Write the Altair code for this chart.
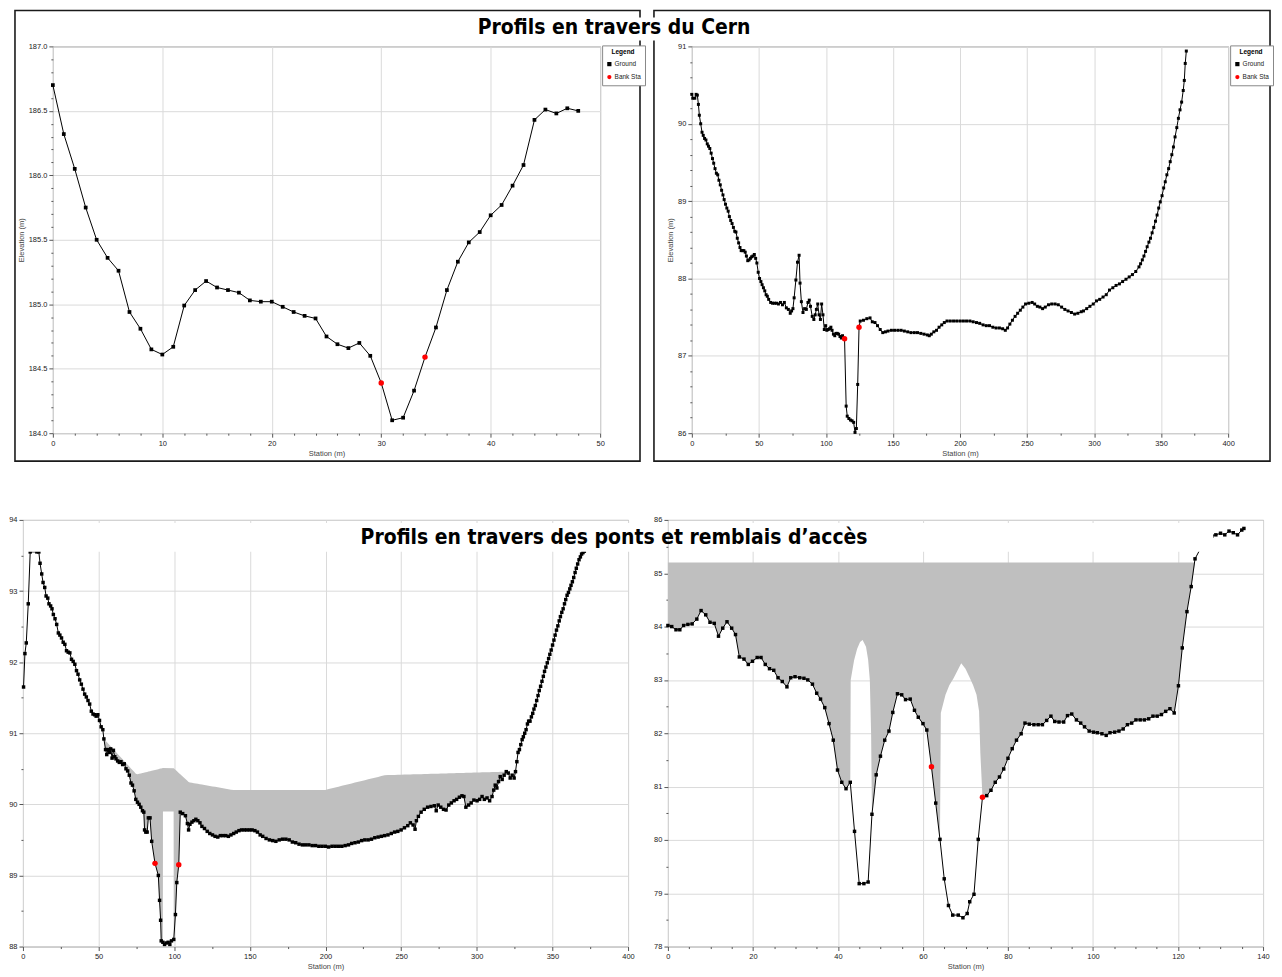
import altair as alt
import numpy as np
import pandas as pd

# ---------------- texts ----------------
TITLE_TOP = "Profils en travers du Cern"
TITLE_BOTTOM = "Profils en travers des ponts et remblais d\u2019accès"
X_TITLE = "Station (m)"
Y_TITLE = "Elevation (m)"
LEGEND_TITLE = "Legend"
LEGEND_LABELS = ["Ground", "Bank Sta"]

# ---------------- panel 1 : Cern (top left) ----------------
p1_station = list(range(49))
p1_elev = [186.70, 186.32, 186.05, 185.75, 185.50, 185.36, 185.26, 184.94, 184.81, 184.65,
           184.61, 184.67, 184.99, 185.11, 185.18, 185.13, 185.11, 185.09, 185.03, 185.02,
           185.02, 184.98, 184.94, 184.91, 184.89, 184.75, 184.69, 184.66, 184.70, 184.60,
           184.39, 184.10, 184.12, 184.33, 184.59, 184.82, 185.11, 185.33, 185.48, 185.56,
           185.69, 185.77, 185.92, 186.08, 186.43, 186.51, 186.48, 186.52, 186.50]
p1_bank = [(30.0, 184.39), (34.0, 184.59)]

# ---------------- panel 2 : Cern (top right) ----------------
p2_profile = [
    (0.0, 90.38), (0.7, 90.33), (2.2, 90.33), (3.2, 90.38), (4.1, 90.37), (4.9, 90.25), (5.6, 90.11),
    (6.6, 90.00), (7.6, 89.89), (8.5, 89.85), (9.5, 89.81), (10.5, 89.79), (11.5, 89.74), (12.4, 89.71),
    (13.4, 89.68), (14.4, 89.62), (15.4, 89.55), (16.3, 89.49), (17.3, 89.42), (18.3, 89.36), (19.3, 89.34),
    (20.2, 89.27), (21.2, 89.21), (22.2, 89.14), (23.2, 89.08), (24.1, 89.02), (25.1, 88.96), (26.1, 88.91),
    (27.1, 88.87), (28.0, 88.80), (29.0, 88.75), (30.0, 88.71), (31.0, 88.66), (32.0, 88.61), (32.9, 88.60),
    (33.9, 88.52), (34.9, 88.46), (35.9, 88.40), (36.8, 88.36), (37.8, 88.36), (38.8, 88.36), (39.8, 88.34),
    (40.7, 88.29), (41.7, 88.23), (42.7, 88.24), (43.7, 88.26), (44.6, 88.28), (45.6, 88.29), (46.6, 88.31),
    (47.6, 88.26), (48.5, 88.20), (49.5, 88.08), (50.5, 88.00), (51.5, 87.96), (52.4, 87.92), (53.4, 87.88),
    (54.4, 87.84), (55.4, 87.79), (56.3, 87.77), (57.3, 87.73), (58.8, 87.69), (60.2, 87.68), (61.7, 87.68),
    (63.2, 87.68), (64.6, 87.67), (66.1, 87.69), (67.6, 87.66), (69.0, 87.69), (70.5, 87.62), (72.0, 87.60),
    (73.4, 87.55), (74.4, 87.58), (75.4, 87.61), (76.3, 87.75), (77.6, 87.98), (78.8, 88.21), (80.0, 88.30),
    (80.7, 87.94), (81.7, 87.70), (82.9, 87.56), (84.1, 87.61), (85.4, 87.60), (86.6, 87.69), (87.6, 87.72),
    (88.5, 87.64), (89.8, 87.51), (91.0, 87.47), (92.0, 87.53), (92.9, 87.60), (93.9, 87.67), (94.9, 87.53),
    (95.9, 87.47), (96.8, 87.67), (97.8, 87.53), (98.8, 87.34), (99.8, 87.39), (100.7, 87.33), (101.7, 87.34),
    (102.7, 87.35), (103.7, 87.37), (104.6, 87.33), (105.6, 87.28), (106.6, 87.26), (107.6, 87.29),
    (108.5, 87.29), (109.5, 87.28), (110.5, 87.25), (111.5, 87.23), (112.4, 87.26), (113.9, 87.22),
    (115.1, 86.35), (115.9, 86.22), (117.1, 86.19), (118.3, 86.17), (119.5, 86.16), (120.7, 86.14),
    (121.7, 86.01), (122.7, 86.06), (123.7, 86.63), (124.7, 87.37), (125.6, 87.45), (128.0, 87.46),
    (130.5, 87.48), (132.9, 87.49), (134.6, 87.44), (136.6, 87.43), (138.5, 87.39), (140.5, 87.34),
    (142.4, 87.30), (144.4, 87.31), (146.3, 87.32), (148.8, 87.33), (151.2, 87.33), (153.7, 87.33),
    (156.1, 87.33), (158.5, 87.32), (161.0, 87.31), (163.4, 87.30), (165.9, 87.30), (168.3, 87.30),
    (170.8, 87.29), (173.2, 87.28), (175.6, 87.27), (177.1, 87.26), (178.6, 87.28), (180.5, 87.31),
    (182.5, 87.33), (184.4, 87.37), (186.4, 87.40), (188.3, 87.43), (190.3, 87.45), (192.7, 87.45),
    (195.2, 87.45), (197.6, 87.45), (200.1, 87.45), (202.5, 87.45), (204.9, 87.45), (207.4, 87.45),
    (209.8, 87.44), (212.3, 87.43), (214.7, 87.42), (217.2, 87.40), (219.6, 87.39), (222.0, 87.39),
    (224.5, 87.37), (226.9, 87.36), (229.4, 87.36), (231.8, 87.35), (233.8, 87.33), (235.5, 87.36),
    (237.2, 87.41), (239.1, 87.46), (241.1, 87.51), (243.0, 87.55), (245.0, 87.59), (246.9, 87.63),
    (248.9, 87.67), (251.3, 87.68), (253.8, 87.69), (255.7, 87.67), (257.7, 87.64), (259.6, 87.63),
    (261.6, 87.61), (263.6, 87.63), (266.0, 87.66), (268.4, 87.67), (270.9, 87.67), (273.3, 87.66),
    (275.8, 87.63), (278.2, 87.60), (280.6, 87.58), (283.1, 87.56), (285.5, 87.54), (287.9, 87.55),
    (290.4, 87.57), (292.1, 87.58), (294.5, 87.61), (296.9, 87.64), (299.4, 87.67), (301.8, 87.71),
    (304.2, 87.73), (306.7, 87.76), (309.1, 87.79), (311.5, 87.85), (314.0, 87.88), (316.4, 87.91),
    (318.9, 87.93), (321.3, 87.96), (323.8, 87.99), (326.2, 88.02), (328.6, 88.05), (331.1, 88.09),
    (333.5, 88.15), (334.7, 88.19), (336.0, 88.24), (337.2, 88.29), (338.4, 88.35), (339.6, 88.41),
    (340.9, 88.47), (342.1, 88.52), (343.3, 88.59), (344.5, 88.66), (345.8, 88.74), (347.0, 88.82),
    (348.2, 88.91), (349.4, 88.99), (350.7, 89.07), (351.9, 89.17), (353.1, 89.25), (354.3, 89.34),
    (355.6, 89.42), (356.8, 89.51), (358.0, 89.60), (359.2, 89.70), (360.4, 89.83), (361.7, 89.95),
    (362.9, 90.07), (364.1, 90.18), (365.3, 90.28), (366.5, 90.43), (367.3, 90.56), (368.0, 90.78),
    (368.8, 90.94)]
p2_bank = [(113.9, 87.22), (124.7, 87.37)]

# ---------------- panel 3 : bridge 1 (bottom left) ----------------
p3_profile = [
    (0.4, 91.65), (1.3, 92.12), (2.2, 92.27), (3.5, 92.82), (4.8, 93.55), (9.2, 93.55), (10.5, 93.55),
    (11.3, 93.39), (12.4, 93.24), (13.3, 93.12), (14.4, 93.05), (15.3, 92.93), (16.4, 92.90), (17.2, 92.82),
    (18.3, 92.79), (19.2, 92.75), (20.1, 92.67), (21.2, 92.61), (22.3, 92.53), (23.4, 92.41), (24.4, 92.38),
    (25.5, 92.34), (26.6, 92.28), (27.7, 92.25), (28.8, 92.16), (29.9, 92.14), (31.0, 92.13), (32.1, 92.04),
    (33.2, 92.01), (34.3, 91.97), (35.4, 91.88), (36.4, 91.83), (37.5, 91.75), (38.6, 91.69), (39.7, 91.62),
    (40.8, 91.55), (41.9, 91.51), (43.0, 91.46), (44.1, 91.41), (45.2, 91.31), (46.3, 91.27), (47.4, 91.26),
    (48.4, 91.24), (49.5, 91.26), (50.6, 91.18), (51.7, 91.09), (52.8, 91.05), (53.5, 90.92), (54.6, 90.77),
    (55.4, 90.70), (56.3, 90.77), (57.2, 90.73), (58.0, 90.78), (58.9, 90.65), (59.8, 90.76), (60.7, 90.67),
    (61.5, 90.64), (62.6, 90.61), (63.7, 90.59), (64.8, 90.60), (65.9, 90.56), (67.0, 90.57), (68.1, 90.50),
    (69.2, 90.47), (70.3, 90.41), (71.4, 90.30), (72.4, 90.27), (73.5, 90.19), (74.6, 90.07), (75.7, 90.03),
    (76.8, 90.00), (77.9, 89.96), (79.0, 89.91), (79.9, 89.89), (80.4, 89.64), (81.2, 89.61), (82.1, 89.61),
    (82.9, 89.81), (84.0, 89.81), (85.1, 89.48), (87.3, 89.17), (89.5, 89.00), (90.3, 88.65), (91.0, 88.37),
    (91.4, 88.08), (92.5, 88.06), (93.6, 88.03), (94.7, 88.05), (96.0, 88.06), (97.1, 88.03), (98.2, 88.08),
    (99.7, 88.10), (100.8, 88.45), (101.7, 88.90), (103.0, 89.15), (104.0, 89.89), (105.6, 89.87),
    (107.4, 89.84), (108.7, 89.73), (109.5, 89.64), (110.4, 89.72), (111.7, 89.75), (113.0, 89.77),
    (114.3, 89.79), (115.6, 89.77), (117.0, 89.74), (118.3, 89.69), (120.0, 89.66), (121.8, 89.62),
    (123.5, 89.59), (125.3, 89.57), (127.0, 89.55), (128.8, 89.54), (130.5, 89.56), (132.3, 89.56),
    (134.0, 89.56), (135.8, 89.55), (137.5, 89.57), (139.3, 89.59), (141.0, 89.61), (142.8, 89.63),
    (144.5, 89.64), (146.3, 89.64), (148.0, 89.64), (149.8, 89.64), (151.5, 89.64), (153.3, 89.63),
    (155.0, 89.61), (156.8, 89.57), (158.5, 89.55), (160.7, 89.52), (162.9, 89.50), (165.1, 89.49),
    (167.2, 89.48), (169.4, 89.50), (171.6, 89.51), (173.8, 89.51), (176.0, 89.50), (178.1, 89.47),
    (180.3, 89.46), (182.5, 89.44), (184.7, 89.43), (186.8, 89.43), (189.0, 89.43), (191.2, 89.42),
    (193.4, 89.42), (195.6, 89.41), (197.7, 89.41), (199.9, 89.41), (202.1, 89.40), (204.3, 89.41),
    (206.4, 89.41), (208.6, 89.41), (210.8, 89.41), (213.0, 89.42), (215.2, 89.43), (217.3, 89.45),
    (219.5, 89.46), (221.7, 89.47), (223.9, 89.49), (226.0, 89.50), (228.2, 89.50), (230.4, 89.51),
    (232.6, 89.53), (234.8, 89.54), (236.9, 89.55), (239.1, 89.56), (241.3, 89.57), (243.5, 89.59),
    (245.7, 89.61), (247.8, 89.62), (250.0, 89.64), (252.2, 89.67), (254.4, 89.70), (256.1, 89.74),
    (257.9, 89.71), (259.2, 89.65), (260.1, 89.77), (261.4, 89.83), (263.2, 89.89), (265.3, 89.93),
    (267.5, 89.96), (269.7, 89.97), (271.9, 89.98), (273.2, 89.91), (274.5, 89.99), (276.2, 89.96),
    (278.0, 89.93), (279.7, 89.92), (281.5, 89.99), (283.2, 90.02), (285.0, 90.05), (286.7, 90.07),
    (288.5, 90.10), (290.2, 90.12), (291.5, 90.11), (292.8, 89.96), (294.6, 89.99), (296.3, 90.02),
    (298.1, 90.06), (300.2, 90.05), (301.9, 90.07), (303.5, 90.11), (305.0, 90.07), (306.8, 90.09),
    (308.5, 90.05), (310.1, 90.11), (311.2, 90.20), (312.2, 90.27), (313.3, 90.23), (314.4, 90.32),
    (315.5, 90.39), (316.8, 90.35), (318.1, 90.41), (319.5, 90.46), (320.8, 90.44), (322.1, 90.37),
    (323.4, 90.41), (324.7, 90.37), (325.6, 90.46), (326.5, 90.60), (327.3, 90.73), (328.2, 90.77),
    (329.1, 90.84), (330.0, 90.91), (330.8, 90.95), (331.7, 91.00), (332.6, 91.05), (333.5, 91.13),
    (334.3, 91.17), (335.2, 91.17), (336.1, 91.23), (337.0, 91.28), (337.8, 91.34), (338.7, 91.39),
    (339.6, 91.46), (340.5, 91.53), (341.3, 91.60), (342.2, 91.66), (343.1, 91.73), (344.0, 91.80),
    (344.8, 91.87), (345.7, 91.93), (346.6, 91.99), (347.5, 92.05), (348.3, 92.11), (349.2, 92.17),
    (350.1, 92.24), (351.0, 92.31), (351.8, 92.38), (352.7, 92.45), (353.6, 92.51), (354.5, 92.58),
    (355.3, 92.64), (356.2, 92.70), (357.1, 92.75), (358.0, 92.82), (358.8, 92.88), (359.7, 92.94),
    (360.6, 92.98), (361.5, 93.03), (362.3, 93.08), (363.2, 93.13), (364.1, 93.19), (365.0, 93.26),
    (365.8, 93.32), (366.7, 93.38), (367.6, 93.44), (368.5, 93.48), (369.3, 93.52), (370.2, 93.54),
    (371.1, 93.56)]
p3_bank = [(87.3, 89.17), (103.0, 89.15)]
# bridge deck (high chord) and the opening under the low chord
p3_deck_station = [53.5, 75.1, 92.4, 99.5, 109.8, 139.2, 199.3, 239.4, 320.0]
p3_deck_elev = [90.92, 90.42, 90.51, 90.51, 90.31, 90.20, 90.20, 90.41, 90.46]
p3_opening_station = [92.55, 99.6]
p3_opening_elev = [89.90, 89.90]

# ---------------- panel 4 : bridge 2 (bottom right) ----------------
p4_profile = [
    (0.0, 84.02), (0.9, 84.00), (1.9, 83.94), (2.8, 83.94), (3.7, 84.02), (4.7, 84.04), (5.7, 84.05),
    (6.8, 84.14), (7.8, 84.30), (8.9, 84.22), (9.9, 84.08), (10.9, 84.06), (11.9, 83.82), (12.9, 83.97),
    (13.9, 84.09), (15.0, 83.97), (15.9, 83.85), (16.8, 83.43), (17.9, 83.39), (18.9, 83.29), (19.9, 83.35),
    (21.0, 83.42), (21.9, 83.42), (22.9, 83.29), (23.9, 83.21), (24.9, 83.18), (25.9, 83.04), (26.9, 82.97),
    (28.0, 82.87), (28.9, 83.04), (29.9, 83.06), (31.0, 83.04), (32.0, 83.03), (32.9, 83.00), (34.0, 82.92),
    (35.0, 82.75), (35.9, 82.64), (36.9, 82.48), (37.9, 82.18), (38.9, 81.87), (39.9, 81.31), (40.9, 81.08),
    (41.9, 80.96), (42.9, 81.08), (43.9, 80.16), (45.0, 79.18), (46.1, 79.18), (47.1, 79.21), (48.0, 80.48),
    (49.0, 81.22), (50.0, 81.57), (51.0, 81.87), (52.0, 82.04), (52.9, 82.39), (54.0, 82.74), (55.0, 82.72),
    (55.9, 82.63), (57.0, 82.64), (58.0, 82.43), (58.9, 82.30), (60.0, 82.18), (60.9, 82.06), (62.0, 81.37),
    (63.0, 80.69), (64.0, 80.01), (65.0, 79.27), (66.0, 78.77), (67.0, 78.59), (68.3, 78.59), (69.4, 78.54),
    (70.4, 78.62), (71.0, 78.84), (72.0, 78.98), (73.0, 80.01), (74.0, 80.80), (75.0, 80.83), (76.0, 80.93),
    (77.0, 81.08), (78.0, 81.18), (79.0, 81.33), (80.0, 81.53), (81.0, 81.71), (82.0, 81.87), (83.1, 81.99),
    (84.0, 82.19), (85.0, 82.17), (86.1, 82.16), (87.1, 82.16), (88.1, 82.16), (89.1, 82.24), (90.1, 82.32),
    (91.0, 82.22), (92.0, 82.21), (93.1, 82.21), (94.0, 82.33), (95.0, 82.36), (96.1, 82.25), (97.1, 82.19),
    (98.0, 82.12), (99.1, 82.04), (100.1, 82.02), (101.0, 82.01), (102.1, 81.99), (103.1, 81.96),
    (104.0, 82.01), (105.1, 82.02), (106.1, 82.04), (107.1, 82.08), (108.1, 82.16), (109.1, 82.19),
    (110.1, 82.25), (111.1, 82.25), (112.1, 82.25), (113.1, 82.27), (114.1, 82.32), (115.1, 82.32),
    (116.1, 82.35), (117.1, 82.41), (118.1, 82.46), (119.1, 82.38), (120.1, 82.89), (121.0, 83.60),
    (122.1, 84.28), (123.1, 84.75), (124.0, 85.27), (127.0, 85.72), (128.0, 85.70), (128.9, 85.72),
    (130.0, 85.75), (131.0, 85.72), (132.0, 85.79), (133.0, 85.76), (134.0, 85.72), (135.0, 85.81),
    (135.5, 85.84)]
p4_bank = [(62.0, 81.37), (74.0, 80.80)]
p4_deck_top = 85.2
p4_deck_end = 124.0
# underside of the two bridge openings (arches)
p4_arch1_station = [43.0, 43.8, 44.5, 45.2, 45.8, 46.6, 47.1, 47.5, 47.8]
p4_arch1_elev = [83.00, 83.37, 83.58, 83.71, 83.75, 83.62, 83.38, 83.00, 82.00]
p4_arch2_station = [64.2, 65.3, 66.2, 67.2, 68.1, 69.0, 70.0, 70.9, 71.8, 72.6, 73.2, 73.5]
p4_arch2_elev = [82.38, 82.72, 82.90, 83.03, 83.17, 83.31, 83.21, 83.06, 82.90, 82.72, 82.41, 81.63]

# ---------------- styling ----------------
FONT = "Liberation Sans"
TITLE_FONT = "DejaVu Sans Condensed, DejaVu Sans"
GREY_FILL = "#bfbfbf"
one = pd.DataFrame({"k": [0]})


def tick_values(lo, hi, step):
    n = int(round((hi - lo) / step))
    return [round(lo + i * step, 4) for i in range(n + 1)]


def make_axis(lo, hi, major, minor, fmt, title, **kw):
    test = f"abs(datum.value / {major} - round(datum.value / {major})) < 0.001"
    return alt.Axis(
        values=tick_values(lo, hi, minor),
        labelExpr=f"({test}) ? format(datum.value, '{fmt}') : ''",
        tickSize={"condition": {"test": test, "value": 4}, "value": 2},
        gridOpacity={"condition": {"test": test, "value": 1}, "value": 0},
        labelOverlap=False, labelFlush=False, title=title, **kw)


def pix_rect(x1, x2, y1, y2, **mk):
    return alt.Chart(one).mark_rect(**mk).encode(
        x=alt.value(x1), x2=alt.value(x2), y=alt.value(y1), y2=alt.value(y2))


def pix_text(txt, x, y):
    return alt.Chart(one).mark_text(
        text=txt, font=TITLE_FONT, fontSize=21, fontWeight="bold", color="black",
        align="center", baseline="middle").encode(x=alt.value(x), y=alt.value(y))


def panel(profile, bank, xd, yd, xmaj, xmin, ymaj, ymin, yfmt, w, h, ytitle,
          psize, legend, area=None, before=(), after=()):
    xs = alt.Scale(domain=xd, nice=False, zero=False)
    ys = alt.Scale(domain=yd, nice=False, zero=False)
    xa = make_axis(xd[0], xd[1], xmaj, xmin, "d", X_TITLE, titlePadding=3)
    ya = make_axis(yd[0], yd[1], ymaj, ymin, yfmt, ytitle, titlePadding=3)
    ground = pd.DataFrame(profile, columns=["station", "elev"])
    ground["series"] = LEGEND_LABELS[0]
    banks = pd.DataFrame(bank, columns=["station", "elev"])
    banks["series"] = LEGEND_LABELS[1]
    X = alt.X("station:Q", scale=xs, axis=xa)
    Y = alt.Y("elev:Q", scale=ys, axis=ya)
    layers = list(before)
    if area is not None:
        layers.append(alt.Chart(area).mark_area(color=GREY_FILL, opacity=1).encode(
            x=X, y=alt.Y("top:Q", scale=ys, axis=ya), y2="bottom:Q"))
    layers.append(alt.Chart(ground).mark_line(color="black", strokeWidth=1).encode(x=X, y=Y))
    if legend:
        lg = alt.Legend(title=LEGEND_TITLE, orient="none", legendX=w + 2, legendY=-1,
                        direction="vertical", titleFont=FONT, titleFontSize=6.5,
                        titleFontWeight="bold", titleAnchor="middle", titlePadding=5,
                        labelFont=FONT, labelFontSize=6.5, labelColor="#222",
                        symbolSize=18, strokeColor="#888", fillColor="white",
                        padding=4, rowPadding=6, labelOffset=2)
        col = alt.Color("series:N", scale=alt.Scale(domain=LEGEND_LABELS, range=["black", "red"]), legend=lg)
        shp = alt.Shape("series:N", scale=alt.Scale(domain=LEGEND_LABELS, range=["square", "circle"]), legend=lg)
        layers.append(alt.Chart(ground).mark_point(filled=True, size=psize, opacity=1).encode(
            x=X, y=Y, color=col, shape=shp))
        layers.append(alt.Chart(banks).mark_point(filled=True, size=30, opacity=1).encode(
            x=X, y=Y, color=col, shape=shp))
    else:
        layers.append(alt.Chart(ground).mark_square(color="black", size=psize, opacity=1).encode(x=X, y=Y))
        layers.append(alt.Chart(banks).mark_circle(color="red", size=30, opacity=1).encode(x=X, y=Y))
    layers.extend(after)
    return alt.layer(*layers).properties(width=w, height=h)


# ---------------- grey bridge areas (one continuous outline each) ----------------
g3 = pd.DataFrame(p3_profile, columns=["station", "elev"])
keep3 = (g3.station >= 53.5) & (g3.station <= 320.8) & ~((g3.station > 92.5) & (g3.station < 99.7))
area3 = pd.concat([
    pd.DataFrame({"station": g3.station[keep3], "bottom": g3.elev[keep3]}),
    pd.DataFrame({"station": p3_opening_station, "bottom": p3_opening_elev}),
], ignore_index=True).sort_values("station")
area3["top"] = np.interp(area3.station, p3_deck_station, p3_deck_elev)
area3["bottom"] = np.minimum(area3.bottom, area3.top)

g4 = pd.DataFrame(p4_profile, columns=["station", "elev"])
keep4 = (g4.station <= p4_deck_end) & ~((g4.station > 42.9) & (g4.station < 48.0)) \
    & ~((g4.station > 64.0) & (g4.station < 74.0))
area4 = pd.concat([
    pd.DataFrame({"station": g4.station[keep4], "bottom": g4.elev[keep4]}),
    pd.DataFrame({"station": p4_arch1_station, "bottom": p4_arch1_elev}),
    pd.DataFrame({"station": p4_arch2_station, "bottom": p4_arch2_elev}),
], ignore_index=True).sort_values("station")
area4["top"] = p4_deck_top
area4["bottom"] = np.minimum(area4.bottom, area4.top)

# ---------------- panels ----------------
W1, H1 = 549, 388
W2 = 538
W3, H3 = 607, 428
W4 = 597
GAP_TOP = 92

tl = panel(list(zip(p1_station, p1_elev)), p1_bank, [0, 50], [184, 187], 10, 2, 0.5, 0.1, ".1f",
           W1, H1, Y_TITLE, 14, True,
           before=[pix_rect(-38, W1 + 40, -36, H1 + 28, filled=False, stroke="#1a1a1a", strokeWidth=1.6)])

tr = panel(p2_profile, p2_bank, [0, 400], [86, 91], 50, 25, 1, 0.2, "d",
           W2, H1, Y_TITLE, 9, True,
           before=[pix_rect(-38, W2 + 42, -36, H1 + 28, filled=False, stroke="#1a1a1a", strokeWidth=1.6)],
           after=[pix_rect(-223, 67, -29, -6, color="white"), pix_text(TITLE_TOP, -78, -18)])

bl = panel(p3_profile, p3_bank, [0, 400], [88, 94], 50, 25, 1, 0.5, "d",
           W3, H3, None, 12, False, area=area3)

br = panel(p4_profile, p4_bank, [0, 140], [78, 86], 20, 5, 1, 0.5, "d",
           W4, H3, None, 12, False, area=area4,
           after=[pix_rect(-645, -2, 3, 32, color="white"), pix_rect(1, 547, 3, 32, color="white"),
                  pix_text(TITLE_BOTTOM, -54, 18)])

spacer = alt.Chart(one).mark_point(opacity=0).encode(
    x=alt.value(0), y=alt.value(0)).properties(width=30, height=H1, view=alt.ViewBackground(strokeOpacity=0))

top_pair = alt.hconcat(tl, tr, spacing=GAP_TOP, bounds="flush").resolve_scale(
    color="independent", shape="independent").resolve_legend(color="independent", shape="independent")
top_row = alt.hconcat(spacer, top_pair, spacing=0, bounds="flush")
bottom_row = alt.hconcat(bl, br, spacing=40, bounds="flush")

chart = alt.vconcat(top_row, bottom_row, spacing=52).properties(
    padding={"left": 0, "top": -1, "right": 0, "bottom": 0}
).configure_view(stroke="#8c8c8c", strokeWidth=1).configure_axis(
    gridColor="#dadada", gridWidth=1, domain=False, tickColor="#555",
    labelFont=FONT, labelFontSize=7.5, labelColor="#222", labelPadding=2,
    titleFont=FONT, titleFontSize=7.5, titleFontWeight="normal", titleColor="#444")

chart.save("out.html", embed_options={"renderer": "svg", "actions": False})
